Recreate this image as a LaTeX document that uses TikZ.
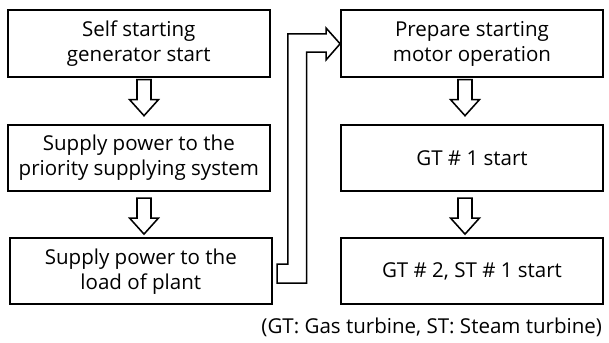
\documentclass[tikz,border=0pt]{standalone}
\usepackage{fontspec}
\setmainfont{Open Sans}
\usepackage{tikz}
\usetikzlibrary{positioning,calc}

\begin{document}
\begin{tikzpicture}[
stage/.style={draw=black,line width=1.3pt,minimum width=6.55cm,minimum height=1.66cm,align=center,font=\fontsize{14.6}{17.8}\selectfont,inner sep=0pt},
blockarrow/.style={draw=black,line width=1.1pt,fill=white,line join=miter},
note/.style={font=\fontsize{14.6}{16}\selectfont}
]
\useasboundingbox (0,0) rectangle (15.225,8.55);

% left column
\node[stage] (selfgen) at (3.47,7.46) {Self starting\\generator start};
\node[stage] (priority) at (3.47,4.60) {Supply power to the\\priority supplying system};
\node[stage] (plantload) at (3.52,1.77) {Supply power to the\\load of plant};

% right column
\node[stage] (prepmotor) at (11.80,7.46) {Prepare starting\\motor operation};
\node[stage] (gtone) at (11.80,4.60) {GT \# 1 start};
\node[stage] (gttwo) at (11.80,1.77) {GT \# 2, ST \# 1 start};

% hollow down arrows
\draw[blockarrow] ([xshift=-0.045cm,yshift=-0.05cm]selfgen.south) -- ++(0.35,0) -- ++(0,-0.5) -- ++(0.185,0) -- ++(-0.36,-0.4) -- ++(-0.36,0.4) -- ++(0.185,0) -- cycle;
\draw[blockarrow] ([xshift=-0.045cm,yshift=-0.15cm]priority.south) -- ++(0.35,0) -- ++(0,-0.5) -- ++(0.185,0) -- ++(-0.36,-0.4) -- ++(-0.36,0.4) -- ++(0.185,0) -- cycle;
\draw[blockarrow] ([xshift=-0.35cm,yshift=-0.05cm]prepmotor.south) -- ++(0.35,0) -- ++(0,-0.5) -- ++(0.185,0) -- ++(-0.36,-0.4) -- ++(-0.36,0.4) -- ++(0.185,0) -- cycle;
\draw[blockarrow] ([xshift=-0.35cm,yshift=-0.15cm]gtone.south) -- ++(0.35,0) -- ++(0,-0.5) -- ++(0.185,0) -- ++(-0.36,-0.4) -- ++(-0.36,0.4) -- ++(0.185,0) -- cycle;

% bent arrow from left column to right column
\draw[blockarrow] ([xshift=0.11cm,yshift=0.175cm]plantload.east) -- ++(0.2675,0) -- ++(0,5.76) -- ++(0.9575,0) -- ++(0,0.1425) -- ++(0.35,-0.3925) -- ++(-0.35,-0.4) -- ++(0,0.1925) -- ++(-0.4875,0) -- ++(0,-5.775) -- ++(-0.7375,0) -- cycle;

\node[note,anchor=base east] (legend) at (15.175,0.225) {(GT: Gas turbine, ST: Steam turbine)};
\end{tikzpicture}
\end{document}
